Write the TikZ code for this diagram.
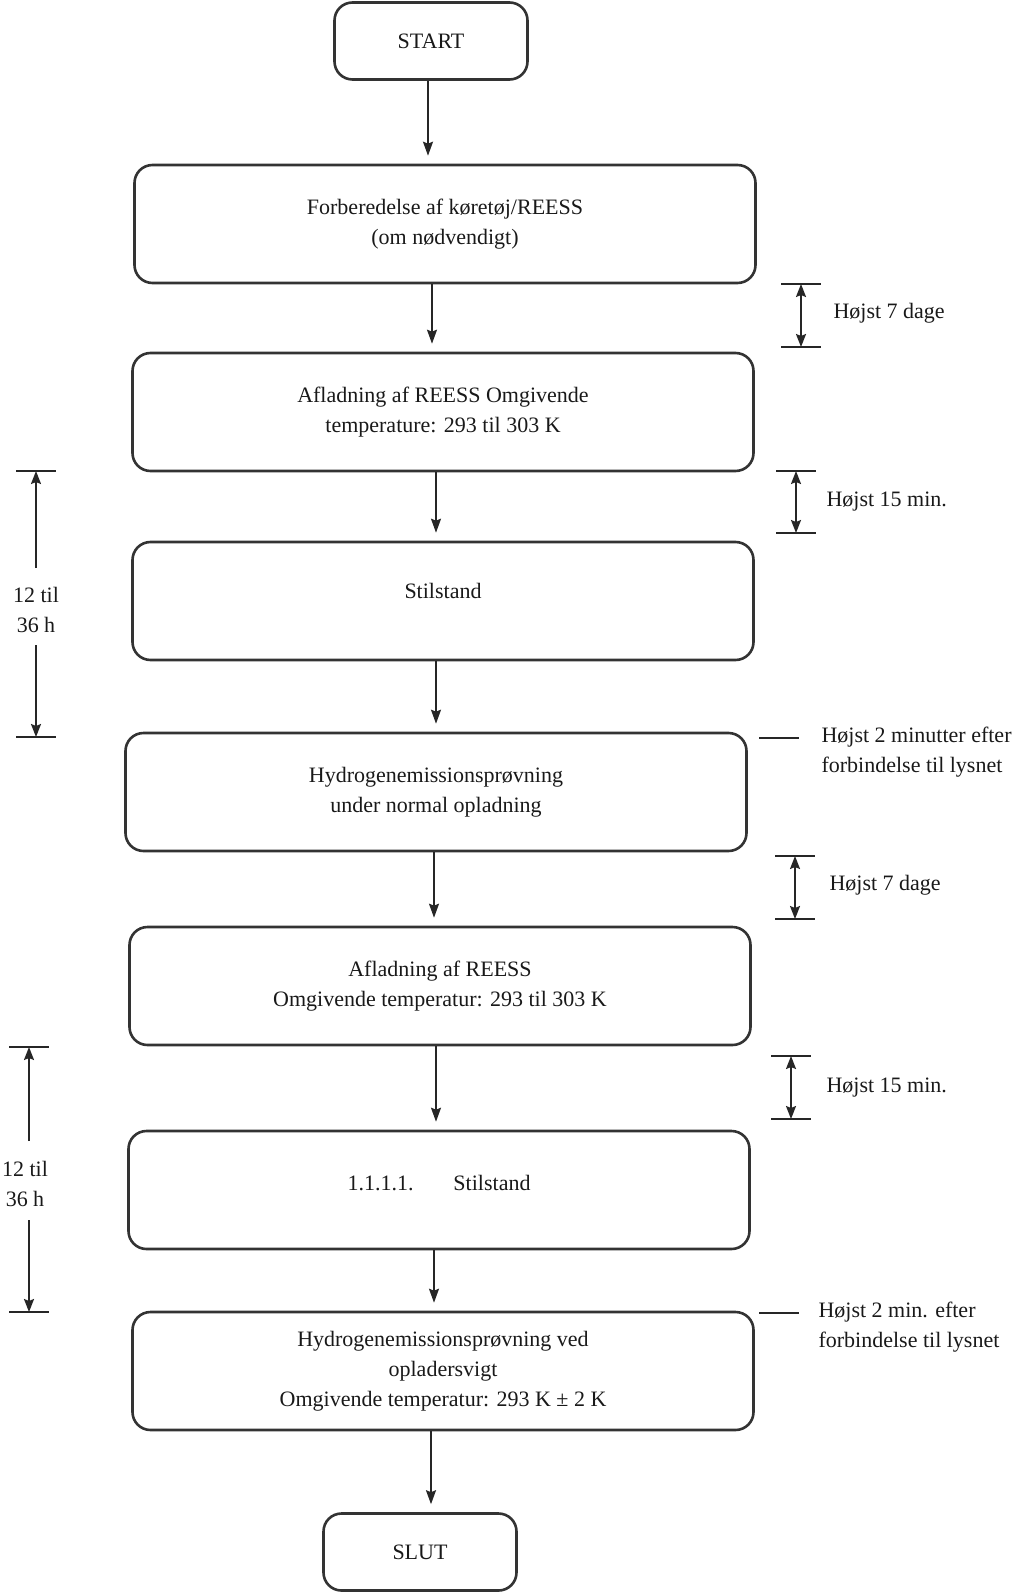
\documentclass[tikz,border=0pt]{standalone}
\usepackage{fontspec}
\setmainfont{Liberation Serif}
\usetikzlibrary{arrows.meta,calc}
\begin{document}
\begin{tikzpicture}[x=1pt,y=-1pt,
  every node/.style={font=\fontsize{22}{30}\selectfont, text=black!90},
  box/.style={draw=black!80, line width=2.6pt, rounded corners=18pt, align=center, inner sep=0pt},
  bigbox/.style={box, minimum width=621pt, minimum height=118pt},
  smallbox/.style={box, minimum width=193pt, minimum height=77pt},
  arr/.style={draw=black!85, line width=1.8pt, -{Stealth[length=14pt,width=10pt,inset=2pt]}, shorten >=8pt},
  dimarr/.style={draw=black!85, line width=1.8pt, {Stealth[length=13pt,width=10pt,inset=2pt]}-{Stealth[length=13pt,width=10pt,inset=2pt]}},
  onearr/.style={draw=black!85, line width=1.8pt, -{Stealth[length=13pt,width=10pt,inset=2pt]}},
  tickln/.style={draw=black!85, line width=2.6pt},
  lbl/.style={anchor=west, align=left}
]
\useasboundingbox (0,0) rectangle (1024,1594);

% boxes
\node[smallbox] (st) at (431,41) {START};
\node[bigbox] (b1) at (445,224) {Forberedelse af køretøj/REESS\\(om nødvendigt)};
\node[bigbox] (b2) at (443,412) {Afladning af REESS Omgivende\\temperature: 293 til 303 K};
\node[bigbox] (b3) at (443,601) {Stilstand\\[-10pt]};
\node[bigbox] (b4) at (436,792) {Hydrogenemissionsprøvning\\under normal opladning};
\node[bigbox] (b5) at (440,986) {Afladning af REESS\\Omgivende temperatur: 293 til 303 K};
\node[bigbox] (b6) at (439,1190) {1.1.1.1.\hspace{40pt}Stilstand\\[-15pt]};
\node[bigbox] (b7) at (443,1371) {Hydrogenemissionsprøvning ved\\opladersvigt\\Omgivende temperatur: 293 K ± 2 K};
\node[smallbox] (sl) at (420,1552) {SLUT};

% arrow x positions
\coordinate (ax0) at (428,0);
\coordinate (ax1) at (432,0);
\coordinate (ax2) at (436,0);
\coordinate (ax3) at (436,0);
\coordinate (ax4) at (434,0);
\coordinate (ax5) at (436,0);
\coordinate (ax6) at (434,0);
\coordinate (ax7) at (431,0);

\draw[arr] (st.south -| ax0) -- (b1.north -| ax0);
\draw[arr] (b1.south -| ax1) -- (b2.north -| ax1);
\draw[arr] (b2.south -| ax2) -- (b3.north -| ax2);
\draw[arr] (b3.south -| ax3) -- (b4.north -| ax3);
\draw[arr] (b4.south -| ax4) -- (b5.north -| ax4);
\draw[arr] (b5.south -| ax5) -- (b6.north -| ax5);
\draw[arr] (b6.south -| ax6) -- (b7.north -| ax6);
\draw[arr] (b7.south -| ax7) -- (sl.north -| ax7);

% right dimension bars
\coordinate (r1t) at (801,284); \coordinate (r1b) at (801,347);
\draw[tickln] ($(r1t)+(-20,0)$) -- ($(r1t)+(20,0)$);
\draw[tickln] ($(r1b)+(-20,0)$) -- ($(r1b)+(20,0)$);
\draw[dimarr] (r1t) -- (r1b);
\node[lbl] (t1) at (830,313) {Højst 7 dage};

\coordinate (r2t) at (796,471); \coordinate (r2b) at (796,533);
\draw[tickln] ($(r2t)+(-20,0)$) -- ($(r2t)+(20,0)$);
\draw[tickln] ($(r2b)+(-20,0)$) -- ($(r2b)+(20,0)$);
\draw[dimarr] (r2t) -- (r2b);
\node[lbl] (t2) at (823,502) {Højst 15 min.};

\coordinate (m1a) at (759,738); \coordinate (m1b) at (799,738);
\draw[tickln] (m1a) -- (m1b);
\node[lbl] (t3) at (818,752) {Højst 2 minutter efter\\forbindelse til lysnet};

\coordinate (r4t) at (795,856); \coordinate (r4b) at (795,919);
\draw[tickln] ($(r4t)+(-20,0)$) -- ($(r4t)+(20,0)$);
\draw[tickln] ($(r4b)+(-20,0)$) -- ($(r4b)+(20,0)$);
\draw[dimarr] (r4t) -- (r4b);
\node[lbl] (t4) at (826,885) {Højst 7 dage};

\coordinate (r5t) at (791,1056); \coordinate (r5b) at (791,1119);
\draw[tickln] ($(r5t)+(-20,0)$) -- ($(r5t)+(20,0)$);
\draw[tickln] ($(r5b)+(-20,0)$) -- ($(r5b)+(20,0)$);
\draw[dimarr] (r5t) -- (r5b);
\node[lbl] (t5) at (823,1088) {Højst 15 min.};

\coordinate (m2a) at (759,1313); \coordinate (m2b) at (799,1313);
\draw[tickln] (m2a) -- (m2b);
\node[lbl] (t6) at (815,1327) {Højst 2 min. efter\\forbindelse til lysnet};

% left bars
\coordinate (l1t) at (36,471); \coordinate (l1b) at (36,737);
\coordinate (l1g1) at (36,568); \coordinate (l1g2) at (36,645);
\draw[tickln] ($(l1t)+(-20,0)$) -- ($(l1t)+(20,0)$);
\draw[tickln] ($(l1b)+(-20,0)$) -- ($(l1b)+(20,0)$);
\draw[onearr] (l1g1) -- (l1t);
\draw[onearr] (l1g2) -- (l1b);
\node[align=center] (lt1) at (36,610) {12 til\\36 h};

\coordinate (l2t) at (29,1047); \coordinate (l2b) at (29,1312);
\coordinate (l2g1) at (29,1141); \coordinate (l2g2) at (29,1220);
\draw[tickln] ($(l2t)+(-20,0)$) -- ($(l2t)+(20,0)$);
\draw[tickln] ($(l2b)+(-20,0)$) -- ($(l2b)+(20,0)$);
\draw[onearr] (l2g1) -- (l2t);
\draw[onearr] (l2g2) -- (l2b);
\node[align=center] (lt2) at (25,1184) {12 til\\36 h};
\end{tikzpicture}
\end{document}
